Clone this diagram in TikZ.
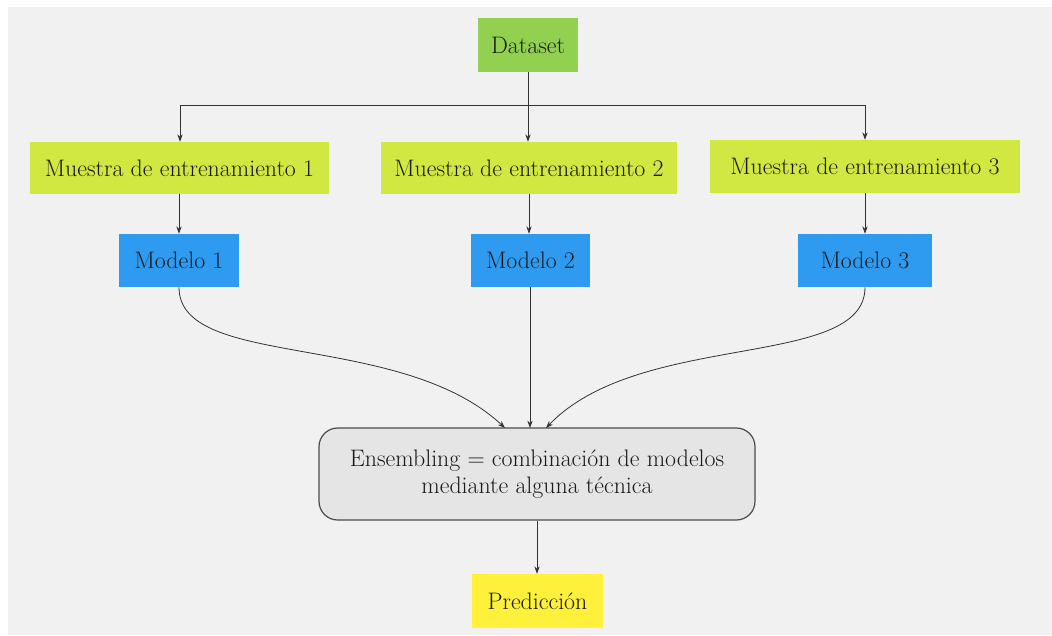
\documentclass[tikz,border=0pt]{standalone}
\usetikzlibrary{arrows.meta}
\definecolor{bggray}{HTML}{F1F1F1}
\definecolor{dsgreen}{HTML}{92D050}
\definecolor{mulime}{HTML}{D2E842}
\definecolor{mdblue}{HTML}{2E9BF0}
\definecolor{ensgray}{HTML}{E5E5E5}
\definecolor{predyel}{HTML}{FFF03C}
\definecolor{txt}{HTML}{1A1A1A}
\tikzset{
  box/.style={draw=none, inner sep=0pt, text=txt, font=\fontsize{17.9}{20.5}\selectfont},
  conn/.style={draw=black!80, line width=0.6pt, -{Stealth[length=5.5pt,width=4pt]}},
}
\begin{document}
\begin{tikzpicture}[x=0.75pt,y=-0.75pt]
  % canvas
  \useasboundingbox (0,0) rectangle (1052,635);
  \fill[white] (0,0) rectangle (1052,635);
  \fill[bggray] (8,7) rectangle (1052,635);

  % nodes
  \node[box, fill=dsgreen, minimum width=75pt, minimum height=40.5pt] (ds) at (528,45) {Dataset};
  \node[box, fill=mulime, minimum width=224pt, minimum height=39pt] (m1) at (179.5,168) {Muestra de entrenamiento 1};
  \node[box, fill=mulime, minimum width=222pt, minimum height=39pt] (m2) at (529,168) {Muestra de entrenamiento 2};
  \node[box, fill=mulime, minimum width=232.5pt, minimum height=39.75pt] (m3) at (865,166.5) {Muestra de entrenamiento 3};
  \node[box, fill=mdblue, minimum width=90pt, minimum height=39.75pt] (md1) at (179,260.5) {Modelo 1};
  \node[box, fill=mdblue, minimum width=89.25pt, minimum height=39.75pt] (md2) at (530.5,260.5) {Modelo 2};
  \node[box, fill=mdblue, minimum width=100.5pt, minimum height=39.75pt] (md3) at (865,260.5) {Modelo 3};
  \node[box, draw=black!70, line width=0.9pt, fill=ensgray, rounded corners=14pt,
        minimum width=327pt, minimum height=69pt, align=center] (ens) at (537,474)
        {Ensembling = combinación de modelos\\mediante alguna técnica};
  \node[box, fill=predyel, minimum width=98pt, minimum height=40.5pt] (pred) at (537.5,601) {Predicción};

  % branching from the dataset
  \coordinate (jm) at (528,105);
  \coordinate (jl) at (180,105);
  \coordinate (jr) at (865,105);
  \draw[draw=black!80, line width=0.6pt] (ds.south) -- (jm);
  \draw[draw=black!80, line width=0.6pt] (jl) -- (jr);
  \draw[conn] (jl) -- (m1.north -| jl);
  \draw[conn] (jm) -- (m2.north -| jm);
  \draw[conn] (jr) -- (m3.north -| jr);

  % samples to models
  \draw[conn] (m1.south -| md1) -- (md1.north);
  \draw[conn] (m2.south -| 529,0) -- (md2.north -| 529,0);
  \draw[conn] (m3.south) -- (md3.north);

  % models to ensembling
  \coordinate (e1) at (505,428);
  \coordinate (e2) at (530,428);
  \coordinate (e3) at (546,428);
  \draw[conn] (md1.south) .. controls (179,370) and (400,330) .. (e1);
  \draw[conn] (md2.south -| e2) -- (e2);
  \draw[conn] (md3.south) .. controls (865,370) and (640,330) .. (e3);

  % ensembling to prediction
  \draw[conn] (ens.south -| 537,0) -- (pred.north -| 537,0);
\end{tikzpicture}
\end{document}
